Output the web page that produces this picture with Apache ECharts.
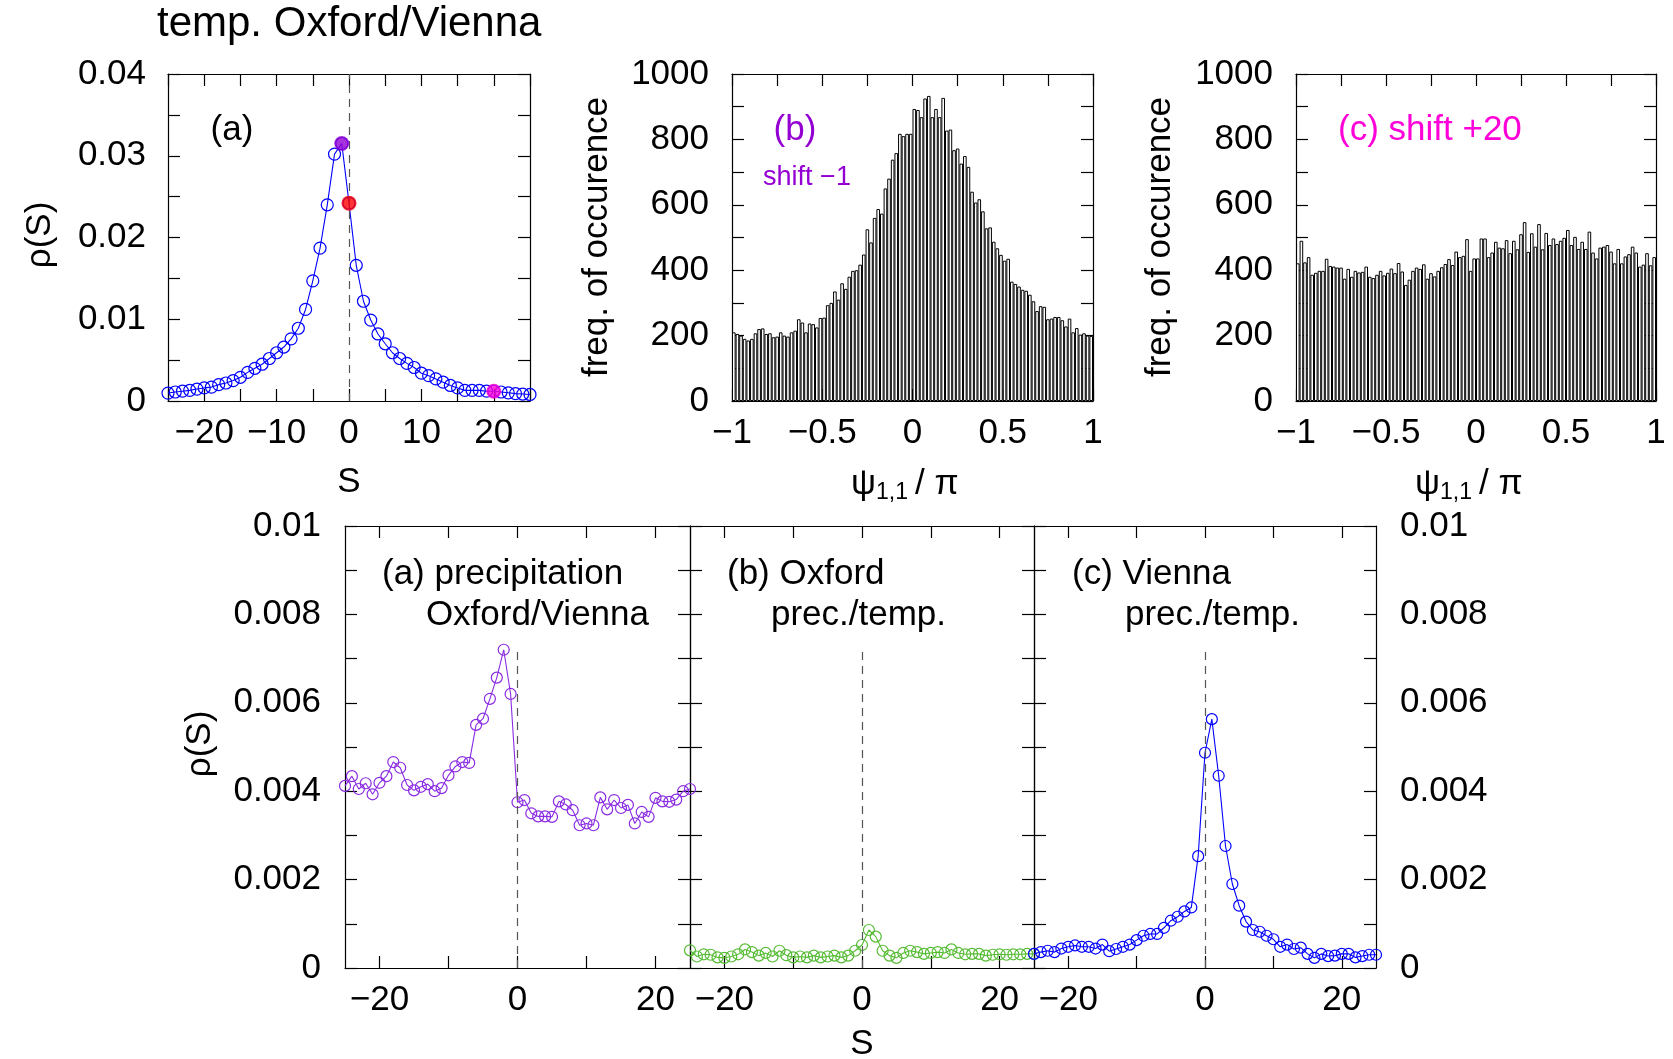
<!doctype html>
<html>
<head>
<meta charset="utf-8">
<title>temp. Oxford/Vienna</title>
<script src="https://cdn.jsdelivr.net/npm/echarts@6/dist/echarts.min.js"></script>
<style>
  html, body { margin: 0; padding: 0; background: #fff; }
  #main { width: 1673px; height: 1059px; }
</style>
</head>
<body>
<div id="main"></div>
<script>
// lag S (days)
var lagS = [-25, -24, -23, -22, -21, -20, -19, -18, -17, -16, -15, -14, -13, -12, -11, -10, -9, -8, -7, -6,
  -5, -4, -3, -2, -1, 0, 1, 2, 3, 4, 5, 6, 7, 8, 9, 10, 11, 12, 13, 14,
  15, 16, 17, 18, 19, 20, 21, 22, 23, 24, 25];

// top (a): temperature Oxford/Vienna
var rhoTemp = [0.00097, 0.0011, 0.0012, 0.0013, 0.00146, 0.0016, 0.0017, 0.002, 0.0022, 0.0025,
  0.0029, 0.0035, 0.004, 0.0045, 0.0052, 0.0059, 0.0066, 0.0076, 0.0089, 0.0112,
  0.0147, 0.0187, 0.024, 0.0302, 0.0315, 0.0242, 0.0166, 0.0122, 0.0099, 0.0082,
  0.007, 0.0059, 0.0052, 0.0046, 0.0041, 0.0034, 0.0031, 0.0027, 0.0023, 0.0019,
  0.0016, 0.0013, 0.0013, 0.0013, 0.0012, 0.0012, 0.0011, 0.001, 0.0009, 0.00085, 0.0008];
var markS = [-1, 0, 20];
var markColors = ['#9400d3', '#ff0000', '#ff00d8'];

// histograms of psi_{1,1}/pi, 100 bins on [-1, 1]
var histShiftM1 = [210, 205, 200, 190, 185, 190, 207, 220, 222, 205,
  207, 195, 197, 210, 200, 197, 210, 215, 250, 240,
  210, 237, 235, 225, 254, 255, 293, 300, 335, 310,
  360, 343, 380, 398, 400, 417, 448, 525, 485, 560,
  587, 573, 650, 680, 738, 758, 817, 810, 817, 817,
  893, 890, 868, 925, 933, 868, 893, 868, 927, 827,
  830, 767, 772, 726, 749, 716, 640, 607, 617, 580,
  528, 531, 487, 467, 447, 429, 435, 365, 358, 350,
  340, 337, 325, 305, 275, 290, 288, 250, 252, 257,
  257, 247, 228, 252, 210, 223, 203, 207, 200, 199];
var histShiftP20 = [421, 490, 424, 440, 386, 392, 398, 398, 435, 413,
  411, 408, 408, 374, 404, 380, 398, 393, 395, 411,
  380, 376, 386, 398, 384, 392, 405, 391, 422, 396,
  355, 371, 398, 408, 404, 418, 374, 391, 381, 398,
  409, 419, 434, 416, 457, 440, 444, 495, 398, 436,
  436, 497, 497, 440, 454, 487, 469, 467, 492, 452,
  490, 464, 510, 547, 456, 513, 472, 541, 464, 514,
  477, 497, 480, 490, 499, 523, 477, 502, 465, 487,
  465, 518, 454, 436, 469, 472, 477, 457, 421, 465,
  421, 442, 449, 472, 454, 411, 417, 452, 415, 440];
var binMin = -1, binWidth = 0.02;

// bottom: precipitation / cross
var rhoPrecOV = [0.00412, 0.00434, 0.00405, 0.00418, 0.00393, 0.00419, 0.00434, 0.00466, 0.00453, 0.00414,
  0.00402, 0.0041, 0.00416, 0.004, 0.00407, 0.00436, 0.00456, 0.00466, 0.00464, 0.0055,
  0.00564, 0.00609, 0.00657, 0.0072, 0.0062, 0.00375, 0.0038, 0.0035, 0.00343, 0.00343,
  0.00342, 0.00377, 0.0037, 0.00357, 0.00323, 0.00327, 0.00323, 0.00386, 0.00359, 0.0038,
  0.00362, 0.00369, 0.00327, 0.00353, 0.00342, 0.00385, 0.00377, 0.00376, 0.00381, 0.004, 0.00405];
var rhoOxford = [0.0004, 0.00026, 0.00031, 0.0003, 0.00024, 0.00023, 0.00026, 0.00031, 0.00042, 0.00036,
  0.00028, 0.00034, 0.00026, 0.00039, 0.00029, 0.00024, 0.00026, 0.00024, 0.00028, 0.00024,
  0.00026, 0.00028, 0.00024, 0.00028, 0.00039, 0.00052, 0.00086, 0.00071, 0.00039, 0.00028,
  0.00023, 0.00034, 0.00039, 0.00036, 0.00032, 0.00034, 0.00036, 0.00034, 0.00042, 0.00034,
  0.00031, 0.00032, 0.00032, 0.00028, 0.0003, 0.00031, 0.0003, 0.00031, 0.00031, 0.00032, 0.00032];
var rhoVienna = [0.00032, 0.00036, 0.00039, 0.00036, 0.00044, 0.00048, 0.00051, 0.00048, 0.00048, 0.00044,
  0.00053, 0.00038, 0.00043, 0.00048, 0.00053, 0.00063, 0.00073, 0.00077, 0.00077, 0.00091,
  0.00107, 0.00116, 0.00128, 0.00137, 0.00253, 0.00487, 0.00563, 0.00435, 0.00276, 0.0019,
  0.00141, 0.00105, 0.00086, 0.00082, 0.00073, 0.00065, 0.00048, 0.00053, 0.00043, 0.00046,
  0.00032, 0.00023, 0.00032, 0.00027, 0.00028, 0.00032, 0.00032, 0.00024, 0.00027, 0.0003, 0.0003];
var dashTop = 0.0072;

var FONT = '"Liberation Sans", Arial, Helvetica, sans-serif';
var TICK_FS = 35;
var TEXT_FS = 35;

function fmtNum(v) {
    var s = String(parseFloat(Math.abs(v).toFixed(4)));
    return v < 0 ? '\u2212' + s : s;
}

// one framed axis (ticks inside, like gnuplot)
function makeAxis(gridIndex, position, o) {
    var ax = {
        type: 'value', gridIndex: gridIndex, position: position,
        min: o.min, max: o.max,
        splitLine: { show: false },
        axisLine: { show: true, onZero: false, lineStyle: { color: '#000', width: 1.2 } },
        axisTick: { show: true, inside: true, length: 12, lineStyle: { color: '#000', width: 1.2 } },
        axisLabel: {
            show: !!o.labels, margin: o.margin || 15, color: '#000',
            fontFamily: FONT, fontSize: TICK_FS, showMinLabel: true, showMaxLabel: true, hideOverlap: false
        }
    };
    if (o.tickValues) {
        ax.axisTick.customValues = o.tickValues;
        ax.axisLabel.customValues = o.labelValues;
        ax.axisLabel.formatter = fmtNum;
    } else {
        ax.interval = o.interval;
        ax.axisLabel.formatter = function (v) {
            var k = Math.round(v / o.interval);
            return k % o.labelEvery === 0 ? fmtNum(v) : '';
        };
    }
    return ax;
}

var grids = [
    { left: 168, top: 74, width: 362, height: 327 },
    { left: 732, top: 74, width: 361, height: 327 },
    { left: 1296, top: 74, width: 360, height: 327 },
    { left: 345, top: 526, width: 345, height: 442 },
    { left: 690, top: 526, width: 344, height: 442 },
    { left: 1034, top: 526, width: 342, height: 442 }
].map(function (g) { g.outerBoundsMode = 'none'; g.containLabel = false; return g; });

var sTop = { min: -25, max: 25, interval: 5, labelEvery: 2 };
var sBottom = { min: -25, max: 25, tickValues: [-20, -10, 0, 10, 20], labelValues: [-20, 0, 20] };
var psiX = { min: -1, max: 1, interval: 0.25, labelEvery: 2 };
var rhoTopY = { min: 0, max: 0.04, interval: 0.005, labelEvery: 2, margin: 22 };
var freqY = { min: 0, max: 1000, interval: 100, labelEvery: 2, margin: 23 };
var rhoBotY = { min: 0, max: 0.01, interval: 0.001, labelEvery: 2, margin: 24 };

function withLabels(o, show) {
    var c = {};
    for (var k in o) c[k] = o[k];
    c.labels = show;
    return c;
}

var xAxes = [], yAxes = [];
var xSpec = [sTop, psiX, psiX, sBottom, sBottom, sBottom];
var ySpec = [rhoTopY, freqY, freqY, rhoBotY, rhoBotY, rhoBotY];
var yLabelSide = ['left', 'left', 'left', 'left', 'none', 'right'];
for (var g = 0; g < 6; g++) {
    xAxes.push(makeAxis(g, 'bottom', withLabels(xSpec[g], true)));
    xAxes.push(makeAxis(g, 'top', withLabels(xSpec[g], false)));
    yAxes.push(makeAxis(g, 'left', withLabels(ySpec[g], yLabelSide[g] === 'left')));
    yAxes.push(makeAxis(g, 'right', withLabels(ySpec[g], yLabelSide[g] === 'right')));
}

function pairs(ys) {
    return lagS.map(function (s, i) { return [s, ys[i]]; });
}
function hist(vals) {
    return vals.map(function (v, i) { return [binMin + binWidth * (i + 0.5), v]; });
}
function dashed(top) {
    return {
        silent: true, symbol: 'none', label: { show: false },
        lineStyle: { color: '#555', type: [8, 6], width: 1.2 },
        data: [[{ coord: [0, 0] }, { coord: [0, top] }]]
    };
}
function openLine(g, ys, color, size, top) {
    return {
        type: 'line', xAxisIndex: 2 * g, yAxisIndex: 2 * g, data: pairs(ys),
        symbol: 'circle', symbolSize: size, showAllSymbol: true,
        lineStyle: { color: color, width: 1.1 },
        itemStyle: { color: 'rgba(0,0,0,0)', borderColor: color, borderWidth: 1.2 },
        markLine: dashed(top), z: 3
    };
}
function histBars(g, vals) {
    return {
        type: 'bar', xAxisIndex: 2 * g, yAxisIndex: 2 * g, data: hist(vals),
        barWidth: '100%',
        itemStyle: { color: '#fff', borderColor: '#000', borderWidth: 1 }
    };
}

var series = [
    openLine(0, rhoTemp, '#0000ff', 12, 0.04),
    {
        type: 'scatter', xAxisIndex: 0, yAxisIndex: 0, symbol: 'circle', symbolSize: 15, z: 5,
        data: markS.map(function (s, i) {
            return { value: [s, rhoTemp[lagS.indexOf(s)]], itemStyle: { color: markColors[i] } };
        })
    },
    histBars(1, histShiftM1),
    histBars(2, histShiftP20),
    openLine(3, rhoPrecOV, '#8a2be2', 11, dashTop),
    openLine(4, rhoOxford, '#55bb33', 11, dashTop),
    openLine(5, rhoVienna, '#0000ff', 11, dashTop)
];

function txt(x, y, text, size, color, align, rot) {
    return {
        type: 'text', x: x, y: y, rotation: rot || 0, silent: true,
        style: {
            text: text, fontSize: size, fontFamily: FONT, fill: color || '#000',
            align: align || 'center', verticalAlign: 'middle',
            textAlign: align || 'center', textVerticalAlign: 'middle'
        }
    };
}
function psiLabel(cx, cy) {
    return [
        txt(cx - 36, cy, '\u03c8', TEXT_FS, '#000', 'right'),
        txt(cx - 36, cy + 9, '1,1', 23, '#000', 'left'),
        txt(cx + 3, cy, '/ \u03c0', TEXT_FS, '#000', 'left')
    ];
}

var graphics = [
    txt(157, 24, 'temp. Oxford/Vienna', 42, '#000', 'left'),
    txt(40, 235, '\u03c1(S)', TEXT_FS, '#000', 'center', Math.PI / 2),
    txt(349, 482, 'S', TEXT_FS),
    txt(232, 130, '(a)', TEXT_FS),
    txt(795, 130, '(b)', TEXT_FS, '#9400d3'),
    txt(807, 178, 'shift \u22121', 27, '#9400d3'),
    txt(1338, 130, '(c) shift +20', TEXT_FS, '#ff00d8', 'left'),
    txt(597, 237, 'freq. of occurence', TEXT_FS, '#000', 'center', Math.PI / 2),
    txt(1160, 237, 'freq. of occurence', TEXT_FS, '#000', 'center', Math.PI / 2),
    txt(200, 744, '\u03c1(S)', TEXT_FS, '#000', 'center', Math.PI / 2),
    txt(862, 1044, 'S', TEXT_FS),
    txt(382, 574, '(a) precipitation', TEXT_FS, '#000', 'left'),
    txt(649, 615, 'Oxford/Vienna', TEXT_FS, '#000', 'right'),
    txt(727, 574, '(b) Oxford', TEXT_FS, '#000', 'left'),
    txt(946, 615, 'prec./temp.', TEXT_FS, '#000', 'right'),
    txt(1072, 574, '(c) Vienna', TEXT_FS, '#000', 'left'),
    txt(1300, 615, 'prec./temp.', TEXT_FS, '#000', 'right')
].concat(psiLabel(912, 484), psiLabel(1476, 484));

var chart = echarts.init(document.getElementById('main'), null, { renderer: 'canvas' });
chart.setOption({
    backgroundColor: '#fff',
    animation: false,
    textStyle: { fontFamily: FONT },
    grid: grids,
    xAxis: xAxes,
    yAxis: yAxes,
    series: series,
    graphic: { elements: graphics }
});
</script>
</body>
</html>
